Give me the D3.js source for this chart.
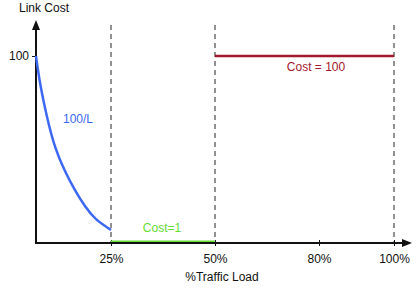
<!DOCTYPE html>
<html>
<head>
<meta charset="UTF-8">
<style>
    body { margin: 0; padding: 0; background: #fff; }
    svg text { font-family: "Liberation Sans", Arial, sans-serif; font-size: 12px; }
</style>
</head>
<body>
<svg id="chart" width="417" height="289"></svg>
<script src="https://d3js.org/d3.v7.min.js"></script>
<script>
// data
var curveLoad = [0, 1.3, 3.6, 6.2, 9.7, 13, 16.3, 19.7, 25];
var curveCost = [100, 85, 67.5, 51, 38, 28, 19.5, 12.5, 7];
var lowLoad = [25, 50];
var lowCost = [1, 1];
var highLoad = [50, 100];
var highCost = [100, 100];
var dashLoads = [25, 50, 100];
var xTicks = [25, 50, 80, 100];
var yTicks = [100];

var svg = d3.select("#chart");

// x is drawn schematically (not even spacing), so piecewise scale
var x = d3.scaleLinear().domain([0, 25, 50, 80, 100]).range([36, 111, 215, 319, 394]);
var y = d3.scaleLinear().domain([0, 100]).range([243, 56]);

svg.append("defs").append("marker")
    .attr("id", "arrow")
    .attr("viewBox", "0 0 10 8")
    .attr("refX", 0).attr("refY", 4)
    .attr("markerWidth", 10).attr("markerHeight", 8)
    .attr("markerUnits", "userSpaceOnUse")
    .attr("orient", "auto")
    .append("path").attr("d", "M0,0 L10,4 L0,8 Z").attr("fill", "#111");

// dashed guide lines
svg.selectAll(".dash").data(dashLoads).enter().append("line")
    .attr("x1", d => x(d)).attr("x2", d => x(d))
    .attr("y1", 25).attr("y2", y(0))
    .attr("stroke", "#222").attr("stroke-width", 1)
    .attr("stroke-dasharray", "5,4");

// axes
var xAxis = svg.append("g")
    .attr("transform", "translate(0," + y(0) + ")")
    .call(d3.axisBottom(x).tickValues(xTicks).tickFormat(d => d + "%").tickSize(6));
xAxis.select(".domain").remove();
xAxis.selectAll(".tick line").attr("y1", -3).attr("y2", 3).attr("stroke", "#111");
xAxis.selectAll(".tick text").attr("y", 11).attr("fill", "#111")
    .style("font-family", "Liberation Sans, Arial, sans-serif").style("font-size", "12px");

var yAxis = svg.append("g")
    .attr("transform", "translate(" + x(0) + ",0)")
    .call(d3.axisLeft(y).tickValues(yTicks).tickSize(4));
yAxis.select(".domain").remove();
yAxis.selectAll(".tick line").attr("stroke", "#111");
yAxis.selectAll(".tick text").attr("fill", "#111")
    .style("font-family", "Liberation Sans, Arial, sans-serif").style("font-size", "12px");

svg.append("line")
    .attr("x1", x(0) - 1).attr("x2", 402)
    .attr("y1", y(0)).attr("y2", y(0))
    .attr("stroke", "#111").attr("stroke-width", 2)
    .attr("marker-end", "url(#arrow)");
svg.append("line")
    .attr("x1", x(0)).attr("x2", x(0))
    .attr("y1", y(0) + 1).attr("y2", 30)
    .attr("stroke", "#111").attr("stroke-width", 2)
    .attr("marker-end", "url(#arrow)");

// series
var line = d3.line().x(d => x(d[0])).y(d => y(d[1]));

svg.append("path")
    .datum(d3.zip(curveLoad, curveCost))
    .attr("d", line.curve(d3.curveBasis))
    .attr("fill", "none").attr("stroke", "#3c68f2").attr("stroke-width", 2.5);

svg.append("path")
    .datum(d3.zip(lowLoad, lowCost))
    .attr("d", d3.line().x(d => x(d[0])).y(d => y(d[1])))
    .attr("fill", "none").attr("stroke", "#66dd33").attr("stroke-width", 1.5);

svg.append("path")
    .datum(d3.zip(highLoad, highCost))
    .attr("d", d3.line().x(d => x(d[0])).y(d => y(d[1])))
    .attr("fill", "none").attr("stroke", "#a3182b").attr("stroke-width", 2.5);

// labels
svg.append("text").attr("x", 44).attr("y", 12).attr("text-anchor", "middle")
    .attr("fill", "#111").text("Link Cost");
svg.append("text").attr("x", 222).attr("y", 281).attr("text-anchor", "middle")
    .attr("fill", "#111").text("%Traffic Load");
svg.append("text").attr("x", 78).attr("y", 123).attr("text-anchor", "middle")
    .attr("fill", "#3c68f2").text("100/L");
svg.append("text").attr("x", 316).attr("y", 71).attr("text-anchor", "middle")
    .attr("fill", "#a3182b").text("Cost = 100");
svg.append("text").attr("x", 162).attr("y", 232).attr("text-anchor", "middle")
    .attr("fill", "#66dd33").text("Cost=1");
</script>
</body>
</html>
